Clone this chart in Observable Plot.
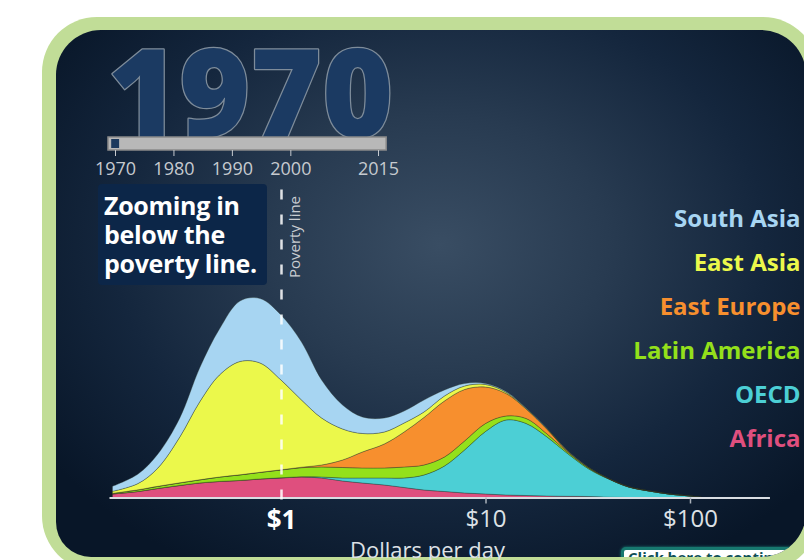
<!DOCTYPE html>
<html><head><meta charset="utf-8">
<script src="https://cdn.jsdelivr.net/npm/d3@7"></script>
<script src="https://cdn.jsdelivr.net/npm/@observablehq/plot@0.6"></script>
<style>
html,body{margin:0;padding:0;background:#fff;}
body{width:804px;height:560px;overflow:hidden;position:relative;font-family:"Open Sans",sans-serif;}
#frame{position:absolute;left:42px;top:17px;width:776px;height:554px;background:#c1dd97;border-radius:55px;}
#panel{position:absolute;left:56px;top:30px;width:750px;height:527px;border-radius:45px 45px 45px 35px;overflow:hidden;
 background:radial-gradient(ellipse 480px 370px at 384px 215px,#394d63 0%,#283b51 35%,#14263d 68%,#081628 100%);}
#btn{position:absolute;left:565px;top:517px;width:240px;height:34px;box-sizing:border-box;border:3px solid #17786f;border-radius:5px;
 background:#fff;box-shadow:0 0 3px #1a8a80;color:#0e4f57;font:700 15px/15px "Open Sans",sans-serif;padding:0 0 0 4px;white-space:nowrap;}
#note{position:absolute;left:98px;top:184px;width:169px;height:101px;box-sizing:border-box;padding:7px 0 0 6px;background:#0c2648;
 border-radius:4px;color:#fff;font:700 25px/29px "Open Sans",sans-serif;letter-spacing:-0.3px;white-space:nowrap;}
.layer{position:absolute;left:0;top:0;pointer-events:none;}
.layer svg{overflow:visible;}
</style></head>
<body>
<div id="frame"></div>
<div id="panel"><div id="btn">Click here to continue</div></div>
<div id="note">Zooming in<br>below the<br>poverty line.</div>
<div id="slider" class="layer"></div>
<div id="legend" class="layer"></div>
<div id="chart" class="layer"></div>
<script>
// ---- data ----
const regions = ["Africa", "OECD", "Latin America", "East Europe", "East Asia", "South Asia"]; // stack order, bottom to top
const legendOrder = ["South Asia", "East Asia", "East Europe", "Latin America", "OECD", "Africa"];
const regionColors = ["#df4f7e", "#4ccfd5", "#94e01b", "#f78f2e", "#ebf84b", "#a7d5f2"];

const dollars = [0.15, 0.2, 0.25, 0.32, 0.4, 0.5, 0.63, 0.79, 1, 1.26, 1.58, 2, 2.5, 3.2, 4, 5, 6.3, 7.9, 10, 12.6, 15.8, 20, 25, 32, 40, 50, 63, 79, 100, 115];
const africa       = [3.5, 6, 9, 12, 14.5, 16, 17, 18.5, 19.5, 20.5, 19.5, 16.5, 14.5, 12.5, 10, 7.5, 6, 4.5, 3.5, 2.5, 2, 1.5, 1.2, 1, 0.3, 0, 0, 0, 0, 0];
const oecd         = [0.1, 0.1, 0.1, 0.1, 0.1, 0.1, 0.1, 0.1, 0.2, 0.3, 1, 3, 5, 7, 9.5, 15, 25.5, 43, 62.5, 75, 72, 59, 43.3, 27.5, 18.2, 10.5, 6.5, 3.5, 1.5, 0];
const latinAmerica = [0.5, 1.5, 2, 2.5, 3, 4.3, 5.5, 6.5, 7.8, 9, 10, 10.5, 10, 10, 11, 10, 9, 9, 8, 4, 5, 3, 1.5, 1, 0.3, 0.2, 0.1, 0, 0, 0];
const eastEurope   = [0.1, 0.1, 0.1, 0.1, 0.1, 0.1, 0.1, 0.1, 0.2, 0.5, 2, 7.5, 16, 24, 35, 47.5, 56, 51.5, 36.5, 22.5, 9.5, 4.7, 1, 0.3, 0.1, 0.1, 0, 0, 0, 0];
const eastAsia     = [2, 6.3, 18.3, 45.8, 77.8, 102, 113.3, 109.3, 89.8, 67.2, 47, 31, 18.5, 12, 9, 5.5, 5, 3.5, 2.5, 1.3, 0.6, 0.5, 0.3, 0.1, 0.05, 0, 0, 0, 0, 0];
const southAsia    = [5, 9.5, 14, 19, 34, 46, 60.5, 64.5, 65, 58, 38, 24, 16.5, 14, 12, 12, 6, 2.5, 1, 0.7, 0.4, 0.3, 0.2, 0.1, 0.05, 0, 0, 0, 0, 0];

const xTicks = [1, 10, 100];
const povertyLine = 1;
const axisExtent = [0.145, 246];
const currentYear = 1970;
const yearRange = [1970, 2015];
const yearTicks = [1970, 1980, 1990, 2000, 2015];

const series = {"Africa": africa, "OECD": oecd, "Latin America": latinAmerica, "East Europe": eastEurope, "East Asia": eastAsia, "South Asia": southAsia};
const table = regions.flatMap(r => dollars.map((d, i) => ({region: r, dollars: d, people: series[r][i]})));

const FONT = "Open Sans, sans-serif";

// ---- main stacked mountain chart ----
const chart = Plot.plot({
  width: 804, height: 560, margin: 0,
  style: {background: "transparent", overflow: "visible", fontFamily: FONT},
  x: {type: "log", domain: [1, 10], range: [281, 485.5], axis: null},
  y: {domain: [0, 200], range: [497.5, 297.5], axis: null},
  color: {domain: regions, range: regionColors},
  marks: [
    Plot.areaY(table, {x: "dollars", y: "people", fill: "region", order: regions, curve: "catmull-rom",
      stroke: "#2a3526", strokeOpacity: 0.35, strokeWidth: 1}),
    Plot.ruleY([0], {x1: axisExtent[0], x2: axisExtent[1], stroke: "#d9dde2", strokeWidth: 2}),
    Plot.ruleX(xTicks.filter(d => d !== povertyLine), {y1: 0, y2: -6, stroke: "#aab2bb", strokeWidth: 1.5}),
    Plot.ruleX([povertyLine], {y1: 308, y2: -7, stroke: "#ffffff", strokeOpacity: 0.85, strokeWidth: 2.5, strokeDasharray: "10 15"}),
    Plot.text(xTicks.filter(d => d === povertyLine), {x: d => d, y: -30.5, text: d => "$" + d, fontSize: 26, fontWeight: 700, fill: "#ffffff", lineAnchor: "bottom"}),
    Plot.text(xTicks.filter(d => d !== povertyLine), {x: d => d, y: -29, text: d => "$" + d, fontSize: 24, fill: "#dde1e6", lineAnchor: "bottom"}),
    Plot.text([povertyLine], {x: d => d, y: 220, text: () => "Poverty line", rotate: -90, textAnchor: "start", dx: 14, fontSize: 15, fill: "#c9cdd2"}),
    Plot.text(["Dollars per day"], {frameAnchor: "bottom", dx: 25, dy: -3, fontSize: 22, fill: "#dde1e6", lineAnchor: "bottom"})
  ]
});
document.getElementById("chart").append(chart);

// ---- year slider and big year ----
const slider = Plot.plot({
  width: 804, height: 200, marginTop: 137, marginBottom: 50, marginLeft: 0, marginRight: 0,
  style: {background: "transparent", overflow: "visible", fontFamily: FONT},
  x: {domain: yearRange, range: [115, 378], axis: null},
  marks: [
    Plot.text([currentYear], {x: d => d, frameAnchor: "top", text: d => String(d), textAnchor: "start", lineAnchor: "bottom",
      dx: -8, dy: -1, fontSize: 122, fontWeight: 800, fill: "#1b3a62", stroke: "#7e8c9a", strokeWidth: 2.5}),
    Plot.rect([yearRange], {x1: d => d[0] - 1.2, x2: d => d[1] + 1.4, fill: "#b8b8b8", stroke: "#8a8a8a", strokeWidth: 1.5}),
    Plot.rect([currentYear], {x1: d => d - 0.65, x2: d => d + 0.7, insetTop: 2, insetBottom: 2, fill: "#1d3a5e"}),
    Plot.axisX(yearTicks, {anchor: "bottom", tickSize: 6, tickPadding: 6, fontSize: 18, tickFormat: d => String(d), color: "#c6cacf"})
  ]
});
document.getElementById("slider").append(slider);

// ---- legend ----
const legend = Plot.plot({
  width: 804, height: 560, margin: 0, marginRight: 4,
  style: {background: "transparent", overflow: "visible", fontFamily: FONT},
  y: {type: "point", domain: legendOrder, range: [226, 446], padding: 0, axis: null},
  color: {domain: regions, range: regionColors},
  marks: [
    Plot.text(legendOrder, {y: d => d, text: d => d, fill: d => d, frameAnchor: "right", lineAnchor: "bottom", fontSize: 24, fontWeight: 700})
  ]
});
document.getElementById("legend").append(legend);
</script>
</body></html>
